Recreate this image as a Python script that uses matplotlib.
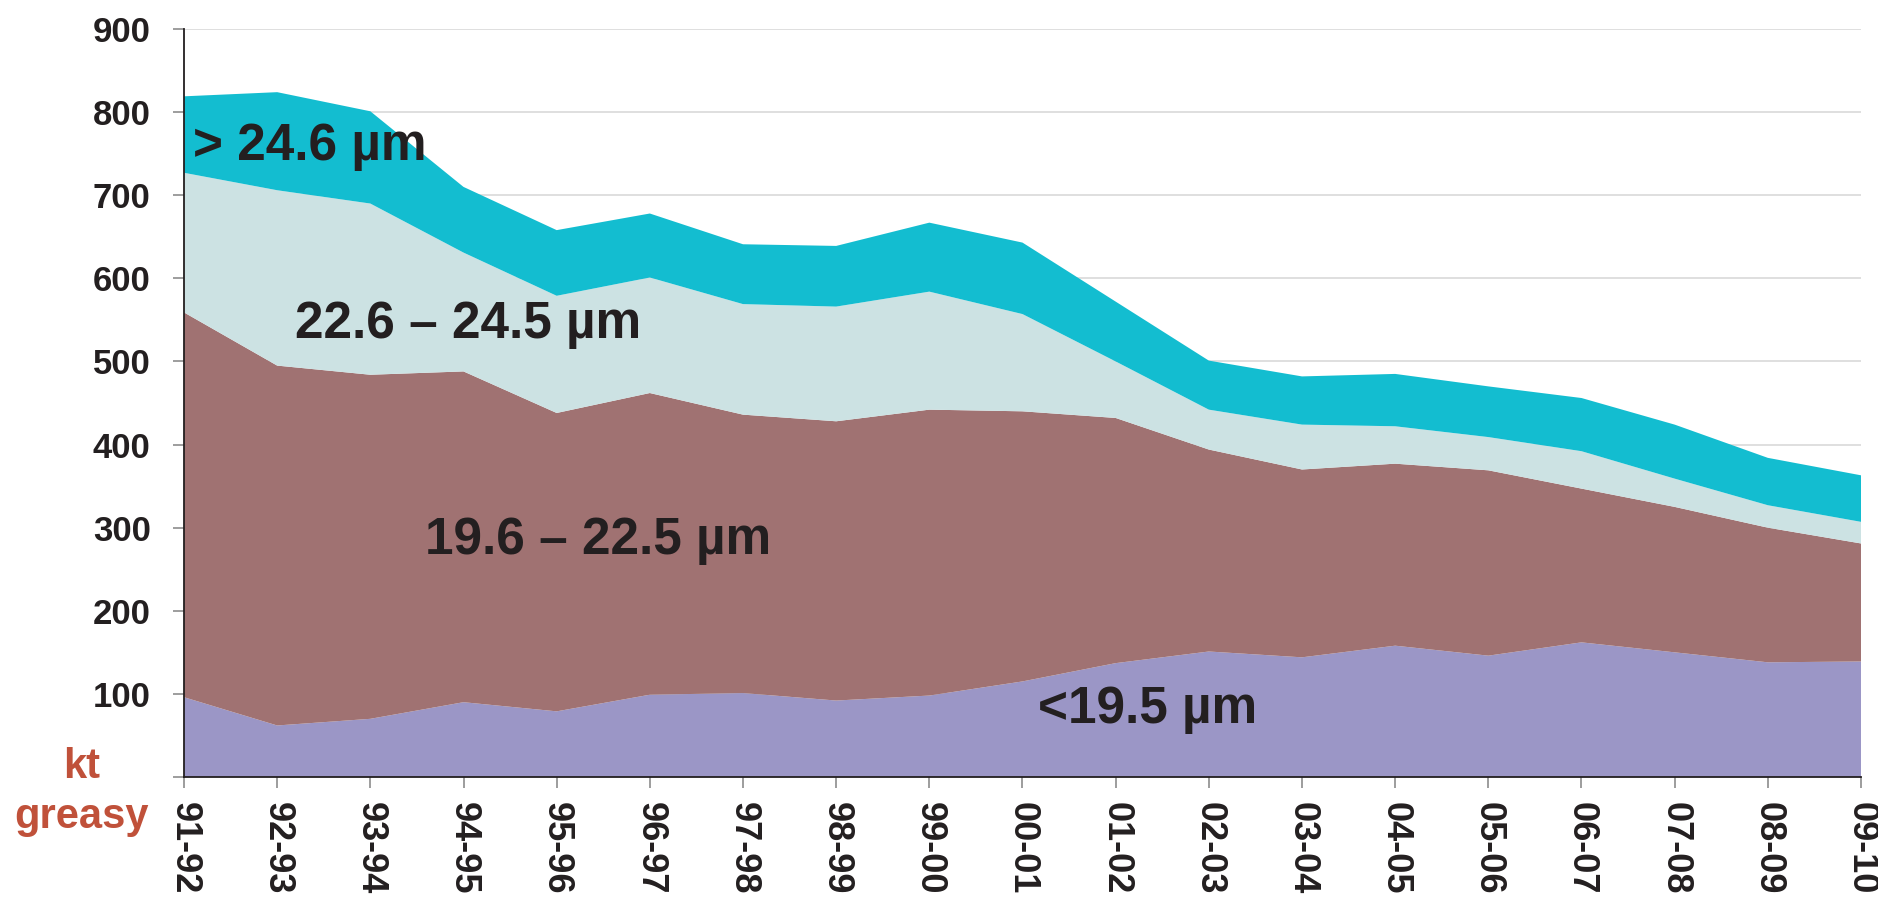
import numpy as np
import matplotlib
matplotlib.use("Agg")
import matplotlib.pyplot as plt

plt.rcParams['font.family'] = ['Liberation Sans', 'DejaVu Sans']
plt.rcParams['font.weight'] = 'bold'

seasons = ['91-92', '92-93', '93-94', '94-95', '95-96', '96-97', '97-98', '98-99', '99-00',
           '00-01', '01-02', '02-03', '03-04', '04-05', '05-06', '06-07', '07-08', '08-09', '09-10']

# kt greasy per micron class
lt_195 = [96, 62, 70, 90, 79, 99, 101, 92, 98, 115, 137, 151, 144, 158, 146, 162, 150, 138, 139]
m196_225 = [463, 433, 414, 398, 359, 363, 335, 336, 344, 325, 295, 243, 226, 219, 223, 185, 175, 162, 142]
m226_245 = [168, 211, 206, 143, 141, 139, 133, 138, 142, 117, 68, 48, 54, 45, 40, 45, 34, 27, 26]
gt_246 = [92, 118, 111, 79, 79, 77, 72, 73, 83, 86, 72, 59, 58, 63, 61, 64, 65, 57, 56]

colors = ['#9B96C6', '#A07272', '#CCE2E3', '#13BDD0']
dark = '#231F20'

fig = plt.figure(figsize=(18.78, 8.97), dpi=100)
ax = fig.add_axes([184 / 1878, 1 - 777 / 897, (1861 - 184) / 1878, (777 - 29) / 897])

x = np.arange(len(seasons))
ax.stackplot(x, lt_195, m196_225, m226_245, gt_246, colors=colors, linewidth=0, zorder=2)

ax.set_xlim(0, len(seasons) - 1)
ax.set_ylim(0, 900)
ax.set_yticks(range(0, 1000, 100))
ax.set_yticklabels([''] + [str(v) for v in range(100, 1000, 100)])
ax.set_xticks(x)
ax.set_xticklabels(seasons, rotation=-90, va='top', ha='center')

ax.grid(axis='y', color='#D9D9D9', lw=1.2, zorder=0)
ax.set_axisbelow(True)
for s in ['top', 'right']:
    ax.spines[s].set_visible(False)
for s in ['left', 'bottom']:
    ax.spines[s].set_color(dark)
    ax.spines[s].set_linewidth(1.3)
    ax.spines[s].set_zorder(5)

ax.tick_params(axis='y', length=8, width=1.2, color='#8C8C8C', pad=16, labelsize=25, labelcolor=dark)
ax.tick_params(axis='x', length=8, width=1.2, color='#8C8C8C', pad=10, labelsize=26, labelcolor=dark)

# band labels
kw = dict(fontsize=37, fontweight='bold', color=dark, va='baseline', ha='left', zorder=6)
ax.text(0.1, 742, '> 24.6 µm', **kw)
ax.text(1.19, 528, '22.6 – 24.5 µm', **kw)
ax.text(2.59, 268, '19.6 – 22.5 µm', **kw)
ax.text(9.17, 65, '<19.5 µm', **kw)

fig.text(82 / 1878, 1 - 778 / 897, 'kt', fontsize=30, fontweight='bold', color='#C0513A', ha='center', va='baseline')
fig.text(82 / 1878, 1 - 828 / 897, 'greasy', fontsize=30, fontweight='bold', color='#C0513A', ha='center', va='baseline')

fig.savefig('out.png', dpi=100, facecolor='white')
